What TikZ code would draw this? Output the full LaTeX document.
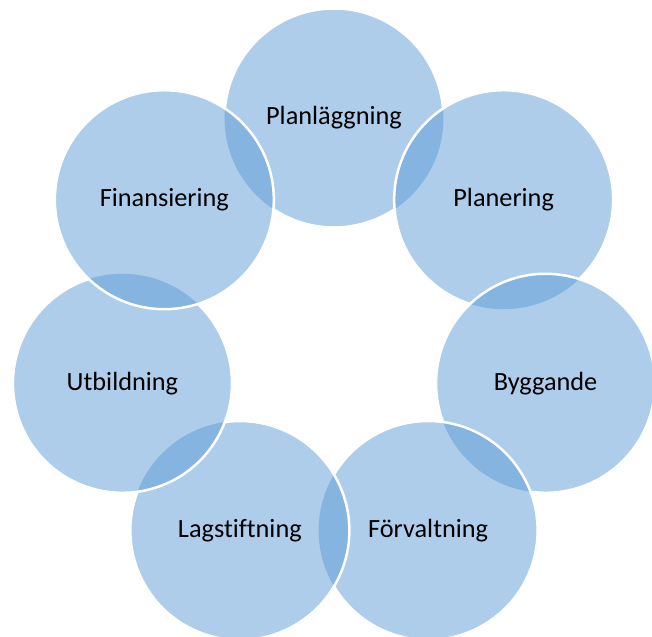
\documentclass[tikz,border=0pt]{standalone}
\usepackage{fontspec}
\setmainfont{Carlito}[Ligatures=NoCommon]
\usepackage{tikz}
\usetikzlibrary{positioning}
\definecolor{cycleblue}{RGB}{91, 155, 213}
\tikzstyle{stage} = [circle, draw=none, fill=cycleblue, fill opacity=0.5, text opacity=1, text=black, text centered, inner sep=0pt, font=\fontsize{26.3}{30}\selectfont, minimum size = 219pt]
\tikzstyle{rim} = [draw=white, line width=2.5pt]

\begin{document}
\begin{tikzpicture}[x=1pt, y=1pt]
\useasboundingbox (-334,-301) rectangle (318,335);
\clip (-334,-301) rectangle (318,335);
%stages=========================

\node[stage] (plan) at (90:217pt) {Planläggning};
\node[stage] (planer) at (38.57:217pt) {Planering};
\node[stage] (bygg) at (-12.86:217pt) {Byggande};
\node[stage] (forv) at (-64.29:217pt) {Förvaltning};
\node[stage] (lag) at (-115.71:217pt) {Lagstiftning};
\node[stage] (utb) at (-167.14:217pt) {Utbildning};
\node[stage] (fin) at (141.43:217pt) {Finansiering};

% rims
\draw[rim] (plan.center) ++(5:109.5pt) arc[start angle=5, delta angle=170, radius=109.5pt];
\draw[rim] (plan.center) ++(236.4:109.5pt) arc[start angle=236.4, delta angle=67.2, radius=109.5pt];
\draw[rim] (planer.center) ++(-46.44:109.5pt) arc[start angle=-46.44, delta angle=298.6, radius=109.5pt];
\draw[rim] (bygg.center) ++(-97.87:109.5pt) arc[start angle=-97.87, delta angle=298.6, radius=109.5pt];
\draw[rim] (forv.center) ++(-149.30:109.5pt) arc[start angle=-149.30, delta angle=298.6, radius=109.5pt];
\draw[rim] (lag.center) ++(-200.72:109.5pt) arc[start angle=-200.72, delta angle=298.6, radius=109.5pt];
\draw[rim] (utb.center) ++(-252.15:109.5pt) arc[start angle=-252.15, delta angle=298.6, radius=109.5pt];
\draw[rim] (fin.center) circle[radius=109.5pt];

\end{tikzpicture}
\end{document}
